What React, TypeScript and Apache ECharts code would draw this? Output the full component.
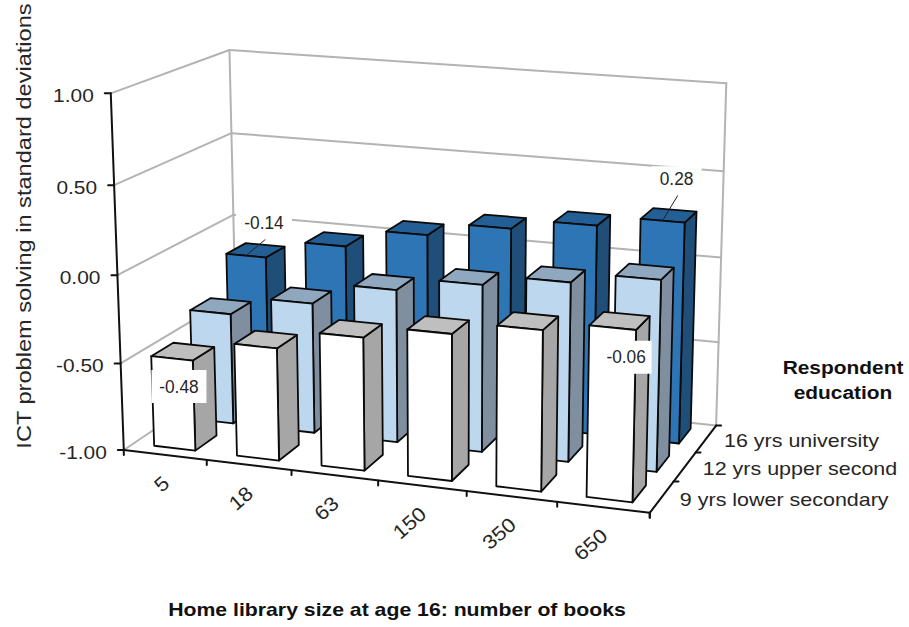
import React, { useEffect, useRef } from "react";
import * as echarts from "echarts";

const bookCounts = ["5", "18", "63", "150", "350", "650"];
const educationLevels = ["9 yrs lower secondary", "12 yrs upper second", "16 yrs university"];
const valueTicks = [-1, -0.5, 0, 0.5, 1];
const lowerSecondary = [-0.48, -0.36, -0.25, -0.18, -0.11, -0.06];
const upperSecondary = [-0.35, -0.24, -0.115, -0.04, 0.02, 0.08];
const university = [-0.14, -0.03, 0.08, 0.16, 0.22, 0.28];

const FONT = "Liberation Sans";
const TEXT = "#262626";

// Camera calibration: unit-box coordinates (u along categories, v up, w into depth)
// paired with their screen positions. A 3x4 projective matrix is fitted to them.
const boxPoints = [
  [0, 0, 0, 124, 449],
  [1, 0, 0, 649, 513],
  [0, 1, 0, 112, 92],
  [0, 0, 1, 238, 375.5],
  [1, 0, 1, 717, 426],
  [0, 1, 1, 229, 51],
  [1, 1, 1, 726, 82],
  [1, 1, 0, 660, 138],
  [0, 0.5, 0, 117, 275],
  [0, 0.5, 1, 234, 215],
  [1, 0.5, 1, 721, 257],
  [0, 0.75, 0, 113, 184],
  [0, 0.75, 1, 231, 134],
  [1, 0.75, 1, 723, 169],
  [0, 0.25, 0, 120, 363],
  [1, 0.25, 1, 718, 342],
];

const solveLinear = (A: number[][], b: number[]) => {
  const n = b.length;
  const M = A.map((row, i) => [...row, b[i]]);
  for (let c = 0; c < n; c++) {
    let pivot = c;
    for (let r = c + 1; r < n; r++) if (Math.abs(M[r][c]) > Math.abs(M[pivot][c])) pivot = r;
    [M[c], M[pivot]] = [M[pivot], M[c]];
    for (let r = 0; r < n; r++) {
      if (r === c) continue;
      const f = M[r][c] / M[c][c];
      for (let k = c; k <= n; k++) M[r][k] -= f * M[c][k];
    }
  }
  return M.map((row, i) => row[n] / row[i]);
};

const fitCamera = () => {
  const rows: number[][] = [];
  const rhs: number[] = [];
  boxPoints.forEach(([u, v, w, x, y]) => {
    rows.push([u, v, w, 1, 0, 0, 0, 0, -x * u, -x * v, -x * w]);
    rhs.push(x);
    rows.push([0, 0, 0, 0, u, v, w, 1, -y * u, -y * v, -y * w]);
    rhs.push(y);
  });
  const N = 11;
  const AtA = Array.from({ length: N }, (_, i) =>
    Array.from({ length: N }, (_, j) => rows.reduce((s, r) => s + r[i] * r[j], 0)),
  );
  const Atb = Array.from({ length: N }, (_, i) => rows.reduce((s, r, k) => s + r[i] * rhs[k], 0));
  return solveLinear(AtA, Atb);
};

const cam = fitCamera();
const project = (u: number, v: number, w: number): number[] => {
  const d = cam[8] * u + cam[9] * v + cam[10] * w + 1;
  return [
    (cam[0] * u + cam[1] * v + cam[2] * w + cam[3]) / d,
    (cam[4] * u + cam[5] * v + cam[6] * w + cam[7]) / d,
  ];
};

const BAR_U = 0.5; // bar width as a share of a category
const BAR_W = 0.55; // bar depth as a share of a row
const ROW_OFFSET = 0.24; // front gap of a bar inside its row

// Turns axis pixels of the hidden cartesian grid into unit coordinates of the box.
const unitOf = (params: any, api: any, cat: number, value: number) => {
  const cs = params.coordSys;
  const p = api.coord([cat, value]);
  return { u: (p[0] - cs.x) / cs.width, v: 1 - (p[1] - cs.y) / cs.height };
};

const line = (a: number[], b: number[], stroke: string, lineWidth: number) => ({
  type: "line",
  shape: { x1: a[0], y1: a[1], x2: b[0], y2: b[1] },
  style: { stroke, lineWidth, lineCap: "round" },
});

const GREY = "#b3b3b3";
const BLACK = "#111";

const poly = (pts: number[][], fill: string) => ({
  type: "polygon",
  shape: { points: pts },
  style: { fill, stroke: "#0a0a0a", lineWidth: 1.8, lineJoin: "round" },
});

const barSeries = (row: number, values: number[], front: string, top: string, side: string) => ({
  type: "custom",
  coordinateSystem: "cartesian2d",
  silent: true,
  clip: false,
  z: 3 + (2 - row),
  encode: { x: 0, y: 1 },
  data: values.map((val, i) => [i, val]),
  renderItem: (params: any, api: any) => {
    const cat = api.value(0);
    const { u, v } = unitOf(params, api, cat, api.value(1));
    const half = BAR_U / bookCounts.length / 2;
    const u0 = u - half;
    const u1 = u + half;
    const w0 = (row + ROW_OFFSET) / educationLevels.length;
    const w1 = (row + ROW_OFFSET + BAR_W) / educationLevels.length;
    return {
      type: "group",
      children: [
        poly([project(u1, 0, w0), project(u1, 0, w1), project(u1, v, w1), project(u1, v, w0)], side),
        poly([project(u0, v, w0), project(u1, v, w0), project(u1, v, w1), project(u0, v, w1)], top),
        poly([project(u0, 0, w0), project(u1, 0, w0), project(u1, v, w0), project(u0, v, w0)], front),
      ],
    };
  },
});

const AXIS_LABEL = { fontFamily: FONT, fontSize: 19, fill: TEXT };

// Walls, gridlines and value axis ticks
const valueAxisSeries = {
  type: "custom",
  coordinateSystem: "cartesian2d",
  silent: true,
  clip: false,
  z: 1,
  encode: { x: 0, y: 1 },
  data: valueTicks.map((t) => [0, t]),
  renderItem: (params: any, api: any) => {
    const tick = api.value(1);
    const { v } = unitOf(params, api, 0, tick);
    const a = project(0, v, 0);
    return {
      type: "group",
      children: [
        line(a, project(0, v, 1), GREY, 2),
        line(project(0, v, 1), project(1, v, 1), GREY, 2),
        line([a[0] - 6, a[1]], a, BLACK, 2),
        {
          type: "text",
          x: a[0] - 17,
          y: a[1] + 2,
          scaleX: 1.1,
          style: { text: tick.toFixed(2), align: "right", verticalAlign: "middle", ...AXIS_LABEL },
        },
      ],
    };
  },
};

const frameSeries = {
  type: "custom",
  coordinateSystem: "cartesian2d",
  silent: true,
  clip: false,
  z: 2,
  encode: { x: 0, y: 1 },
  data: [[0, 0]],
  renderItem: () => ({
    type: "group",
    children: [
      line(project(0, 0, 1), project(0, 1, 1), GREY, 2),
      line(project(1, 0, 1), project(1, 1, 1), GREY, 2),
      line(project(0, 0, 0), project(0, 1, 0), BLACK, 2),
      line(project(0, 0, 0), project(1, 0, 0), BLACK, 2),
      line(project(1, 0, 0), project(1, 0, 1), BLACK, 2),
    ],
  }),
};

const categorySeries = {
  type: "custom",
  coordinateSystem: "cartesian2d",
  silent: true,
  clip: false,
  z: 2,
  encode: { x: 0, y: 1 },
  data: bookCounts.map((_, i) => [i, -1]),
  renderItem: (params: any, api: any) => {
    const cat = api.value(0);
    const { u } = unitOf(params, api, cat, -1);
    const half = 0.5 / bookCounts.length;
    const right = project(u + half, 0, 0);
    const mid = project(u, 0, 0);
    const children: any[] = [line(right, [right[0], right[1] + 5], BLACK, 2)];
    if (cat === 0) {
      const left = project(0, 0, 0);
      children.push(line(left, [left[0], left[1] + 5], BLACK, 2));
    }
    children.push({
      type: "text",
      x: mid[0] + 1,
      y: mid[1] + 25,
      rotation: (41 * Math.PI) / 180,
      scaleX: 1.1,
      style: { text: bookCounts[cat], align: "right", verticalAlign: "middle", ...AXIS_LABEL, fontSize: 20 },
    });
    return { type: "group", children };
  },
};

const depthSeries = {
  type: "custom",
  coordinateSystem: "cartesian2d",
  silent: true,
  clip: false,
  z: 2,
  encode: { x: 0, y: 1 },
  data: educationLevels.map((_, i) => [i, -1]),
  renderItem: (_p: any, api: any) => {
    const row = api.value(0);
    const n = educationLevels.length;
    const end = project(1, 0, (row + 1) / n);
    const mid = project(1, 0, (row + 0.5) / n);
    const children: any[] = [line(end, [end[0] + 5, end[1]], BLACK, 2)];
    if (row === 0) {
      const start = project(1, 0, 0);
      children.push(line(start, [start[0], start[1] + 5], BLACK, 2));
    }
    children.push({
      type: "text",
      x: mid[0] + 18,
      y: mid[1] + 2,
      scaleX: 1.13,
      style: { text: educationLevels[row], align: "left", verticalAlign: "middle", ...AXIS_LABEL },
    });
    return { type: "group", children };
  },
};

// Data labels: value drawn on a white plate, with an optional leader to the bar top
const calloutSeries = (
  row: number,
  cat: number,
  values: number[],
  dx: number,
  dy: number,
  boxW: number,
  boxH: number,
  leader: boolean,
) => ({
  type: "custom",
  coordinateSystem: "cartesian2d",
  silent: true,
  clip: false,
  z: 9,
  encode: { x: 0, y: 1 },
  data: [[cat, values[cat]]],
  renderItem: (params: any, api: any) => {
    const { u, v } = unitOf(params, api, api.value(0), api.value(1));
    const anchor = project(u, v, (row + ROW_OFFSET) / educationLevels.length);
    const cx = anchor[0] + dx;
    const cy = anchor[1] + dy;
    const children: any[] = [
      {
        type: "rect",
        shape: { x: cx - boxW / 2, y: cy - boxH / 2, width: boxW, height: boxH },
        style: { fill: "#fff" },
      },
    ];
    if (leader) {
      children.push(line(anchor, [cx + 1, cy + 17], "#222", 1));
    }
    children.push({
      type: "text",
      x: cx,
      y: cy,
      scaleX: 0.96,
      style: { text: api.value(1).toFixed(2), align: "center", verticalAlign: "middle", fontFamily: FONT, fontSize: 18, fill: TEXT },
    });
    return { type: "group", children };
  },
});

const graphicText = (text: string, x: number, y: number, size: number, scaleX: number, bold: boolean, rotation = 0) => ({
  type: "text",
  x,
  y,
  rotation,
  scaleX,
  style: {
    text,
    fontFamily: FONT,
    fontSize: size,
    fontWeight: bold ? "bold" : "normal",
    fill: bold ? "#111" : TEXT,
    align: "center",
    verticalAlign: "middle",
  },
});

export default function App() {
  const ref = useRef<HTMLDivElement>(null);
  useEffect(() => {
    const chart = echarts.init(ref.current!, null, { renderer: "svg" });
    chart.setOption({
      animation: false,
      backgroundColor: "#ffffff",
      grid: { left: 0, top: 0, width: 600, height: 600, containLabel: false },
      xAxis: { type: "category", data: bookCounts, show: false },
      yAxis: { type: "value", min: -1, max: 1, show: false },
      graphic: [
        graphicText("ICT problem solving in standard deviations", 24, 226, 20, 1.18, false, Math.PI / 2),
        graphicText("Home library size at age 16: number of books", 397, 610, 18, 1.18, true),
        graphicText("Respondent", 843, 367, 19, 1.1, true),
        graphicText("education", 843, 392, 19, 1.1, true),
      ],
      series: [
        valueAxisSeries,
        frameSeries,
        categorySeries,
        depthSeries,
        barSeries(2, university, "#2e75b6", "#235f94", "#1f4e79"),
        barSeries(1, upperSecondary, "#bdd7ee", "#8fa7bf", "#7f8fa0"),
        barSeries(0, lowerSecondary, "#ffffff", "#bfbfbf", "#a6a6a6"),
        calloutSeries(2, 0, university, 18, -33, 56, 25, true),
        calloutSeries(2, 5, university, 14, -42, 50, 25, true),
        calloutSeries(0, 0, lowerSecondary, 7, 28, 55, 33, false),
        calloutSeries(0, 5, lowerSecondary, 13.5, 29.5, 51, 33, false),
      ],
    });
    return () => chart.dispose();
  }, []);
  return <div ref={ref} style={{ position: "absolute", left: 0, top: 0, width: 909, height: 627 }} />;
}
